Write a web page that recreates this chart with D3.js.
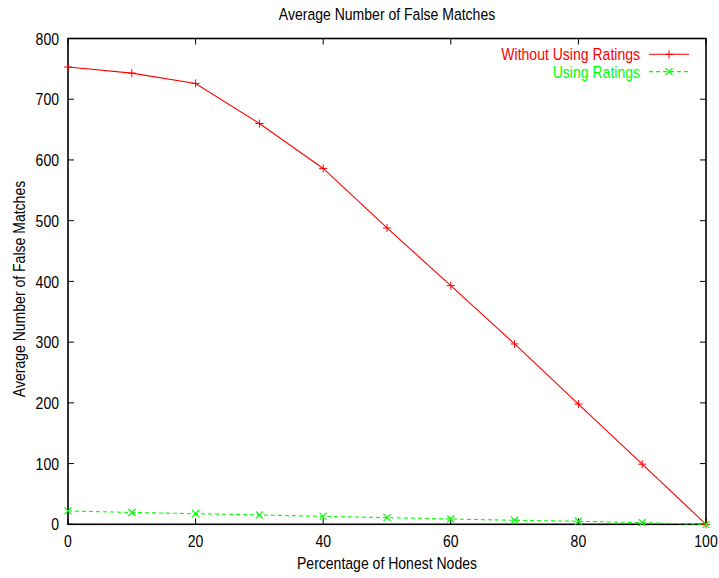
<!DOCTYPE html>
<html><head><meta charset="utf-8">
<script src="https://cdn.jsdelivr.net/npm/d3@7"></script>
<style>
html,body{margin:0;padding:0;background:#fff;}
text{font-family:"Liberation Sans",Arial,sans-serif;}
</style></head>
<body>
<svg id="c" width="719" height="578"></svg>
<script>
const xValues = [0,10,20,30,40,50,60,70,80,90,100];
const withoutRatings = [753,743,726,660,586,488,393,297,198,99,0];
const usingRatings = [22,19.5,17.5,15.5,13,11,8.7,6.6,5,2.7,0];
const xTicks = [0,20,40,60,80,100];
const yTicks = [0,100,200,300,400,500,600,700,800];
const seriesNames = ["Without Using Ratings","Using Ratings"];
const seriesColors = ["#ff0000","#00ff00"];
const titleText = "Average Number of False Matches";
const xLabel = "Percentage of Honest Nodes";
const yLabel = "Average Number of False Matches";

const svg = d3.select("#c");
const L=68, R=706, T=38.5, B=524.3;
const x = d3.scaleLinear().domain([0,100]).range([L,R]);
const y = d3.scaleLinear().domain([0,800]).range([B,T]);
const FS = 17, SX = 0.825;

function txt(px,py,s,anchor,opts={}){
  const rot = opts.rot ? ` rotate(${opts.rot})` : "";
  const t = svg.append("text")
    .attr("transform",`translate(${px},${py})${rot} scale(${SX},1)`)
    .attr("text-anchor",anchor).attr("font-size",FS)
    .attr("fill",opts.fill||"#000").text(s);
  if(opts.dy) t.attr("dy",opts.dy);
  return t;
}

// ticks (inward, mirrored)
const tk = 6;
const g = svg.append("g").attr("stroke","#000").attr("stroke-width",1);
xTicks.forEach(v=>{
  g.append("line").attr("x1",x(v)).attr("x2",x(v)).attr("y1",B).attr("y2",B-tk);
  g.append("line").attr("x1",x(v)).attr("x2",x(v)).attr("y1",T).attr("y2",T+tk);
});
yTicks.forEach(v=>{
  g.append("line").attr("x1",L).attr("x2",L+tk).attr("y1",y(v)).attr("y2",y(v));
  g.append("line").attr("x1",R).attr("x2",R-tk).attr("y1",y(v)).attr("y2",y(v));
});
svg.append("rect").attr("x",L).attr("y",T).attr("width",R-L).attr("height",B-T)
  .attr("fill","none").attr("stroke","#000").attr("stroke-width",1.6);

// tick labels
xTicks.forEach(v=>txt(x(v),B+23,v,"middle"));
yTicks.forEach(v=>txt(L-9,y(v),v,"end",{dy:"0.36em"}));

// titles
txt(387,19.5,titleText,"middle");
txt(387,569,xLabel,"middle");
txt(25,289,yLabel,"middle",{rot:-90});

// series
const seriesData = [withoutRatings, usingRatings];
const line = d3.line().x(d=>x(d[0])).y(d=>y(d[1]));
function plus(sel,cx,cy,c){
  sel.append("path").attr("d",`M${cx-4},${cy}H${cx+4}M${cx},${cy-4}V${cy+4}`).attr("stroke",c).attr("stroke-width",1).attr("fill","none");
}
function cross(sel,cx,cy,c){
  sel.append("path").attr("d",`M${cx-3.5},${cy-3.5}L${cx+3.5},${cy+3.5}M${cx-3.5},${cy+3.5}L${cx+3.5},${cy-3.5}`).attr("stroke",c).attr("stroke-width",1.2).attr("fill","none");
}
const markers=[plus,cross];
const dashes=[null,"4,3"];
seriesData.forEach((vals,i)=>{
  const pts = xValues.map((xv,j)=>[xv,vals[j]]);
  svg.append("path").attr("d",line(pts)).attr("fill","none").attr("stroke",seriesColors[i])
    .attr("stroke-width",1.1).attr("stroke-dasharray",dashes[i]);
  pts.forEach(p=>markers[i](svg,x(p[0]),y(p[1]),seriesColors[i]));
  // legend
  const ly = 54.3 + i*17.3;
  txt(640,ly,seriesNames[i],"end",{dy:"0.36em",fill:seriesColors[i]});
  svg.append("line").attr("x1",649).attr("x2",689).attr("y1",ly).attr("y2",ly)
    .attr("stroke",seriesColors[i]).attr("stroke-width",1.1).attr("stroke-dasharray",dashes[i]);
  markers[i](svg,669,ly,seriesColors[i]);
});
</script>
</body></html>
